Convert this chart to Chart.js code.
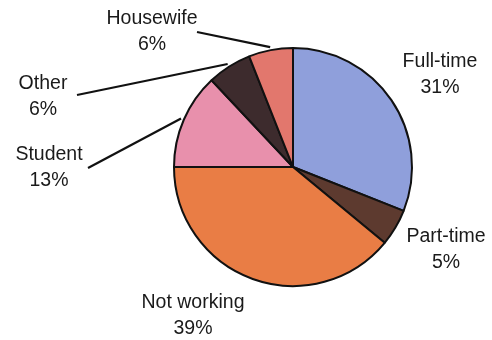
<!DOCTYPE html>
<html>
<head>
<meta charset="utf-8">
<script src="https://cdn.jsdelivr.net/npm/chart.js@4"></script>
<style>
  html, body { margin: 0; padding: 0; background: #ffffff; }
  #wrap { width: 492px; height: 340px; }
</style>
</head>
<body>
<div id="wrap"><canvas id="c" width="492" height="340"></canvas></div>
<script>
// Employment status shares, clockwise from 12 o'clock
const categories = ['Full-time', 'Part-time', 'Not working', 'Student', 'Other', 'Housewife'];
const shares = [31, 5, 39, 13, 6, 6];
const sliceColors = ['#8f9fdb', '#5d3a2f', '#e97d45', '#e890ac', '#3d2b2d', '#e2776d'];

// Label anchor (centre of the name line) and optional leader line start
const labelSpots = [
  { x: 440, y: 62,  leader: null },
  { x: 446, y: 237, leader: null },
  { x: 193, y: 303, leader: null },
  { x: 49,  y: 155, leader: { x: 88, y: 168 } },
  { x: 43,  y: 84,  leader: { x: 77, y: 95 } },
  { x: 152, y: 19,  leader: { x: 197, y: 32 } }
];

const labelPlugin = {
  id: 'sliceLabels',
  afterDatasetsDraw(chart) {
    const ctx = chart.ctx;
    const meta = chart.getDatasetMeta(0);
    ctx.save();
    meta.data.forEach((arc, i) => {
      const spot = labelSpots[i];
      if (spot.leader) {
        const mid = (arc.startAngle + arc.endAngle) / 2;
        const r = arc.outerRadius + 3;
        const ex = arc.x + Math.cos(mid) * r;
        const ey = arc.y + Math.sin(mid) * r;
        ctx.beginPath();
        ctx.moveTo(spot.leader.x, spot.leader.y);
        ctx.lineTo(ex, ey);
        ctx.strokeStyle = '#111111';
        ctx.lineWidth = 2.2;
        ctx.stroke();
      }
      ctx.fillStyle = '#1a1a1a';
      ctx.font = '19.5px "Liberation Sans", Arial, sans-serif';
      ctx.textAlign = 'center';
      ctx.textBaseline = 'middle';
      ctx.fillText(categories[i], spot.x, spot.y);
      ctx.fillText(shares[i] + '%', spot.x, spot.y + 26);
    });
    ctx.restore();
  }
};

new Chart(document.getElementById('c'), {
  type: 'pie',
  data: {
    labels: categories,
    datasets: [{
      data: shares,
      backgroundColor: sliceColors,
      borderColor: '#111111',
      borderWidth: 2
    }]
  },
  options: {
    responsive: false,
    animation: false,
    layout: { padding: { left: 173, right: 79, top: 47, bottom: 53 } },
    plugins: {
      legend: { display: false },
      tooltip: { enabled: false }
    }
  },
  plugins: [labelPlugin]
});
</script>
</body>
</html>
